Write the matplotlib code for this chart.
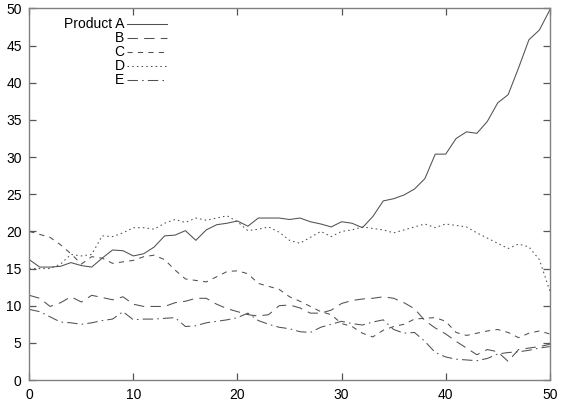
import matplotlib
matplotlib.use("Agg")
import matplotlib.pyplot as plt
import numpy as np

plt.rcParams['font.family'] = ['Liberation Sans', 'DejaVu Sans']

x = list(range(51))
product_a = [16.2, 15.2, 15.2, 15.3, 15.8, 15.4, 15.2, 16.4, 17.5, 17.4,
             16.7, 17.0, 17.9, 19.4, 19.5, 20.1, 18.8, 20.2, 20.9, 21.1,
             21.4, 20.7, 21.8, 21.8, 21.8, 21.6, 21.8, 21.3, 21.0, 20.6,
             21.3, 21.1, 20.5, 22.0, 24.1, 24.4, 24.9, 25.7, 27.1, 30.4,
             30.4, 32.5, 33.4, 33.2, 34.8, 37.3, 38.4, 42.0, 45.8, 47.1, 49.8]
product_b = [11.4, 11.0, 9.9, 10.4, 11.2, 10.5, 11.4, 11.1, 10.8, 11.2,
             10.2, 9.9, 9.9, 9.9, 10.4, 10.6, 11.0, 11.0, 10.2, 9.6,
             9.2, 8.8, 8.6, 8.8, 10.0, 10.1, 9.7, 9.0, 9.0, 9.4,
             10.3, 10.7, 10.9, 11.0, 11.2, 11.0, 10.4, 9.6, 8.0, 7.0,
             6.2, 5.2, 4.3, 3.4, 4.1, 3.8, 2.5, 4.1, 4.3, 4.5, 4.8]
product_c = [20.0, 19.6, 19.2, 18.2, 17.0, 15.6, 16.6, 16.4, 15.7, 15.9,
             16.1, 16.6, 16.8, 16.2, 14.8, 13.6, 13.4, 13.2, 13.9, 14.6,
             14.7, 14.3, 13.0, 12.6, 12.2, 11.2, 10.6, 9.9, 9.2, 8.8,
             7.6, 7.2, 6.3, 5.8, 6.7, 7.2, 7.5, 8.2, 8.3, 8.4,
             7.9, 6.4, 6.0, 6.3, 6.6, 6.8, 6.4, 5.7, 6.3, 6.6, 6.2]
product_d = [15.0, 15.0, 15.0, 15.6, 16.9, 16.7, 16.9, 19.4, 19.3, 19.8,
             20.5, 20.5, 20.3, 21.1, 21.6, 21.2, 21.8, 21.5, 21.8, 22.1,
             21.3, 20.1, 20.3, 20.6, 19.9, 18.8, 18.4, 19.2, 20.0, 19.3,
             20.0, 20.2, 20.6, 20.4, 20.2, 19.8, 20.2, 20.6, 21.0, 20.5,
             21.0, 20.8, 20.6, 19.8, 19.1, 18.4, 17.7, 18.3, 17.9, 16.2, 12.0]
product_e = [9.5, 9.2, 8.5, 7.8, 7.7, 7.5, 7.7, 8.0, 8.2, 9.2,
             8.1, 8.2, 8.2, 8.3, 8.4, 7.2, 7.3, 7.7, 7.9, 8.1,
             8.4, 9.0, 8.0, 7.5, 7.1, 6.9, 6.5, 6.4, 7.1, 7.5,
             7.9, 7.6, 7.4, 7.8, 8.1, 6.8, 6.3, 6.4, 5.2, 3.7,
             3.1, 2.8, 2.7, 2.6, 2.9, 3.5, 3.7, 3.8, 4.0, 4.3, 4.5]

labels = ["Product A", "B", "C", "D", "E"]
series = [product_a, product_b, product_c, product_d, product_e]
dashes = [None, (10, 6), (5, 5), (1.5, 3), (10, 4, 1.5, 4)]

fig = plt.figure(figsize=(5.61, 4.08), dpi=100)
ax = fig.add_axes([0.0522, 0.0686, 0.9278, 0.9106])
col = '#505050'
for lab, ys, d in zip(labels, series, dashes):
    line, = ax.plot(x, ys, color=col, linewidth=0.75, label=lab)
    if d is not None:
        line.set_dashes(d)

ax.set_xlim(0, 50)
ax.set_ylim(0, 50)
ax.set_xticks(range(0, 51, 10))
ax.set_yticks(range(0, 51, 5))
for s in ax.spines.values():
    s.set_color('#808080')
    s.set_linewidth(1.0)
ax.tick_params(direction='in', length=4.7, width=0.9, color='#555555',
               top=True, right=True, labelsize=10, pad=5.5)

leg = ax.legend(loc='upper right', bbox_to_anchor=(0.2645, 0.976),
                frameon=False, markerfirst=False, handlelength=2.9,
                handletextpad=0.15, labelspacing=0.0, borderpad=0,
                fontsize=10, borderaxespad=0)

fig.savefig("out.png", dpi=100)
